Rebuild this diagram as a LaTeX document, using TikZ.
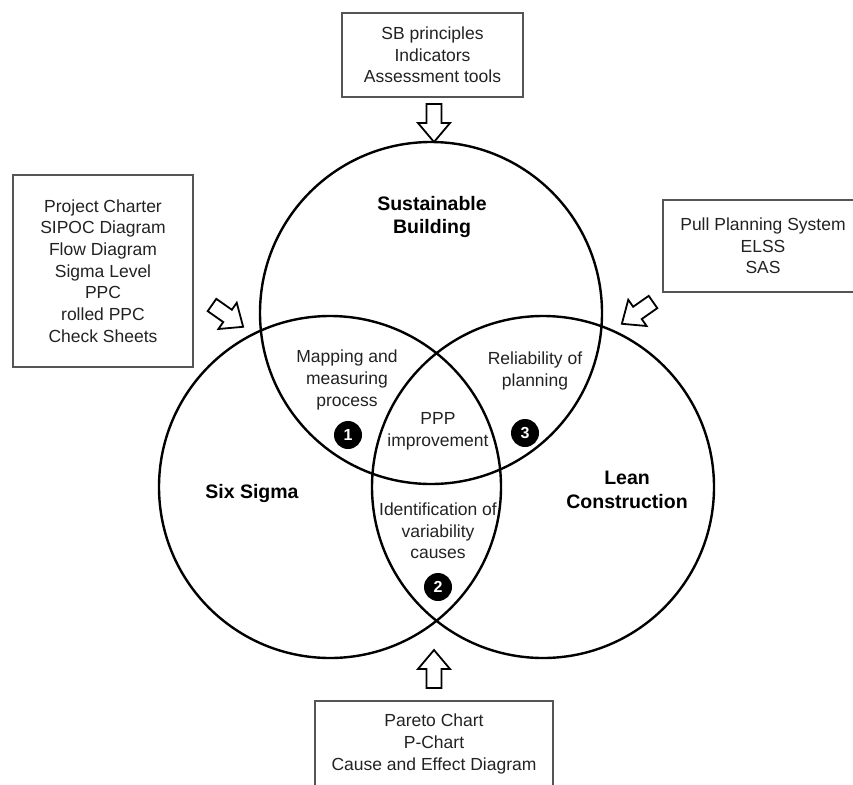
\documentclass[tikz,border=0pt]{standalone}
\usepackage{fontspec}
\setmainfont{Liberation Sans}
\definecolor{boxgray}{HTML}{555555}
\definecolor{textgray}{HTML}{222222}
\begin{document}
\begin{tikzpicture}[x=1pt,y=1pt,
  ring/.style={circle, draw=black, line width=2.4pt, minimum size=342pt, inner sep=0pt},
  toolbox/.style={draw=boxgray, line width=2pt, inner sep=0pt, align=center,
    font=\fontsize{17.5}{21.7}\selectfont, text=textgray},
  area/.style={align=center, inner sep=0pt, font=\fontsize{17.5}{21.7}\selectfont, text=textgray},
  title/.style={align=center, inner sep=0pt, font=\fontsize{19.5}{23.5}\selectfont\bfseries, text=black},
  badge/.style={circle, fill=black, minimum size=28pt, inner sep=0pt, text=white,
    font=\fontsize{16}{16}\selectfont\bfseries},
  blockarrow/.pic={\draw[line width=1.8pt, fill=white, line join=miter]
    (0,7.5) -- (19,7.5) -- (19,16) -- (38,0) -- (19,-16) -- (19,-7.5) -- (0,-7.5) -- cycle;}
]
\useasboundingbox (0,0) rectangle (853,-784);

% the three overlapping fields
\node[ring] (sb) at (431,-313) {};
\node[ring] (ss) at (330,-487) {};
\node[ring] (lc) at (543,-487) {};

% field titles
\node[title] (sbt) at (432,-217) {Sustainable\\Building};
\node[title] (sst) at (252,-493) {Six Sigma};
\node[title] (lct) at (627,-490) {Lean\\Construction};

% overlap contents
\node[area] (map) at (347,-380) {Mapping and\\measuring\\process};
\node[area] (rel) at (535,-371) {Reliability of\\planning};
\node[area] (ppp) at (438,-431) {PPP\\improvement};
\node[area] (var) at (438,-531) {Identification of\\variability\\causes};

% numbered markers
\node[badge] (b1) at (348,-435) {1};
\node[badge] (b2) at (438,-587) {2};
\node[badge] (b3) at (525,-433) {3};

% tool boxes
\node[toolbox, minimum width=181pt, minimum height=84pt] (tsb) at (432.5,-55)
  {SB principles\\Indicators\\Assessment tools};
\node[toolbox, minimum width=180pt, minimum height=192pt] (tss) at (103,-271)
  {Project Charter\\SIPOC Diagram\\Flow Diagram\\Sigma Level\\PPC\\rolled PPC\\Check Sheets};
\node[toolbox, minimum width=200pt, minimum height=92pt] (tlc) at (763,-246)
  {Pull Planning System\\ELSS\\SAS};
\node[toolbox, minimum width=238pt, minimum height=86pt] (tvar) at (434,-744)
  {Pareto Chart\\P-Chart\\Cause and Effect Diagram};

% hollow arrows from the tool boxes into the fields
\coordinate (atop) at (434,-104);
\coordinate (aleft) at (212,-305);
\coordinate (aright) at (653,-302);
\coordinate (abottom) at (434,-688);
\pic[rotate=-90] at (atop) {blockarrow};
\pic[rotate=-35] at (aleft) {blockarrow};
\pic[rotate=215] at (aright) {blockarrow};
\pic[rotate=90] at (abottom) {blockarrow};
\end{tikzpicture}
\end{document}
